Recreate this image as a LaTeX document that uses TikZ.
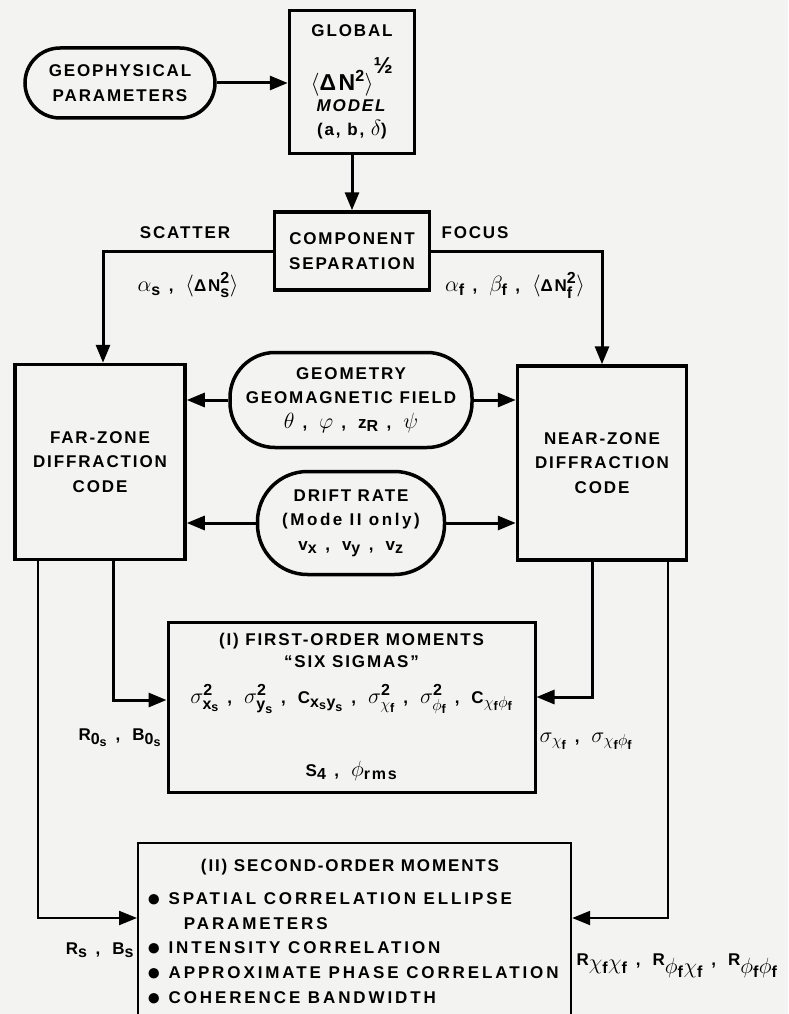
\RequirePackage{fix-cm}
\documentclass[tikz,border=0pt]{standalone}
\usepackage{amsmath}
\usepackage{fontspec}
\setmainfont{Liberation Sans}[LetterSpace=11]
\usetikzlibrary{arrows.meta,positioning}
\definecolor{paper}{HTML}{F3F3F1}
\DeclareMathSizes{17}{22}{16}{12.5}
\newcommand{\blt}{{\fontsize{24}{20}\selectfont\raisebox{-2pt}{●}}\ }
\newcommand{\sep}{\hspace{8pt},\hspace{12pt}}

\begin{document}
\begin{tikzpicture}[x=1pt,y=-1pt,
	font=\fontsize{17}{24.5}\selectfont\bfseries,
	box/.style={draw,line width=3.5pt,align=center,inner sep=4pt},
	pill/.style={box,rounded corners=#1},
	arr/.style={line width=3pt,-{Triangle[length=18pt,width=14pt]}},
	thin/.style={line width=2.2pt}]
	\fill[paper] (0,0) rectangle (788,1014);
	\useasboundingbox (0,0) rectangle (788,1014);

	\node[pill=35pt,minimum width=190pt,minimum height=70pt] (geo) at (120,83) {GEOPHYSICAL\\PARAMETERS};
	\node[box,minimum width=125pt,minimum height=143pt] (glob) at (352,82) {GLOBAL\\[20pt]{\fontsize{23}{26}\selectfont$\langle\text{ΔN}^{\text{2}}\rangle^{\raisebox{9pt}{\text{½}}}$}\\[-4pt]\textit{MODEL}\\(a, b, $\delta$)};
	\node[box,minimum width=155pt,minimum height=78pt] (comp) at (352,251) {COMPONENT\\SEPARATION};
	\node[box,minimum width=170pt,minimum height=195pt] (far_z) at (100,462) {FAR-ZONE\\DIFFRACTION\\CODE};
	\node[box,minimum width=169pt,minimum height=194pt] (near_z) at (602,463) {NEAR-ZONE\\DIFFRACTION\\CODE};
	\node[pill=45pt,minimum width=242pt,minimum height=95pt] (geom) at (351,400) {GEOMETRY\\GEOMAGNETIC FIELD\\$\theta$\sep$\varphi$\sep z$_{\text{R}}$\sep$\psi$};
	\node[pill=50pt,minimum width=187pt,minimum height=103pt] (drift) at (351,523) {DRIFT RATE\\{\addfontfeatures{LetterSpace=15}(Mode II only)}\\$\text{v}_{\text{x}}$\sep$\text{v}_{\text{y}}$\sep$\text{v}_{\text{z}}$};
	\node[box,line width=3pt,minimum width=367pt,minimum height=170pt] (mom_1) at (351.5,707) {(I) FIRST-ORDER MOMENTS\\[-3pt]“SIX SIGMAS”\\[12pt]$\sigma^{\text{2}}_{\text{x}_{\text{s}}}$\sep$\sigma^{\text{2}}_{\text{y}_{\text{s}}}$\sep C$_{\text{x}_{\text{s}}\text{y}_{\text{s}}}$\sep$\sigma^{\text{2}}_{\chi_{\text{f}}}$\sep$\sigma^{\text{2}}_{\phi_{\text{f}}}$\sep C$_{\chi_{\text{f}}\phi_{\text{f}}}$\\[46pt]S$_{\text{4}}$\sep$\phi_{\text{rms}}$};
	\node[draw,thin,minimum width=433pt,minimum height=200pt,anchor=north west] (mom_2) at (137,842) {};
	\node (mom_2t) at (350,867) {(II) SECOND-ORDER MOMENTS};
	\node[anchor=north west,align=left,font=\fontsize{17}{24.7}\selectfont\bfseries\addfontfeatures{LetterSpace=17}] (mom_2l) at (143,889) {\blt SPATIAL CORRELATION ELLIPSE\\\hspace{2.2em}PARAMETERS\\\blt INTENSITY CORRELATION\\\blt APPROXIMATE PHASE CORRELATION\\\blt COHERENCE BANDWIDTH};

	\node (scat) at (185,233) {SCATTER};
	\node (focus) at (475,233) {FOCUS};
	\node (scat_p) at (188,285) {$\alpha_{\text{s}}$\sep$\langle\text{ΔN}^{\text{2}}_{\text{s}}\rangle$};
	\node (focus_p) at (515,285) {$\alpha_{\text{f}}$\sep$\beta_{\text{f}}$\sep$\langle\text{ΔN}^{\text{2}}_{\text{f}}\rangle$};
	\node (far_p1) at (120,738) {R$_{\text{0}_{\text{s}}}$\sep B$_{\text{0}_{\text{s}}}$};
	\node[anchor=west] (near_p1) at (536,741) {$\sigma_{\chi_{\text{f}}}$\sep$\sigma_{\chi_{\text{f}}\phi_{\text{f}}}$};
	\node (far_p2) at (100,950) {R$_{\text{s}}$\sep B$_{\text{s}}$};
	\node[anchor=west] (near_p2) at (573,966) {R$_{\textstyle\chi_{\text{f}}\chi_{\text{f}}}$\sep R$_{\textstyle\phi_{\text{f}}\chi_{\text{f}}}$\sep R$_{\textstyle\phi_{\text{f}}\phi_{\text{f}}}$};

	\draw[arr] (geo.east) -- (geo.east -| glob.west);
	\draw[arr] (glob) -- (comp);
	\draw[arr] (comp.west) -| ([xshift=3pt]far_z.north);
	\draw[arr] (comp.east) -| (near_z.north);
	\draw[arr] (geom.west) -- (geom.west -| far_z.east);
	\draw[arr] (geom.east) -- (geom.east -| near_z.west);
	\draw[arr] (drift.west) -- (drift.west -| far_z.east);
	\draw[arr] (drift.east) -- (drift.east -| near_z.west);
	\draw[arr] ([xshift=13pt]far_z.south) |- ([yshift=7pt]mom_1.west);
	\draw[arr] ([xshift=-10pt]near_z.south) |- ([yshift=10pt]mom_1.east);
	\draw[arr,thin] ([xshift=-62pt]far_z.south) |- ([yshift=-76pt]mom_2.north west);
	\draw[arr,thin] ([xshift=66pt]near_z.south) |- ([yshift=-76pt]mom_2.north east);
\end{tikzpicture}
\end{document}
